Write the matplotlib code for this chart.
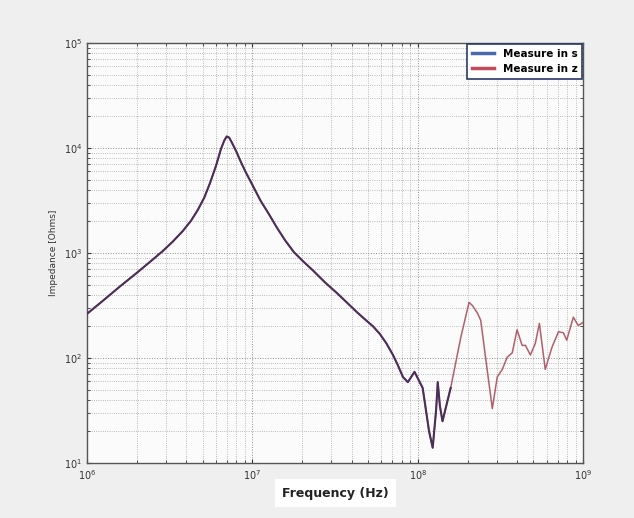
import numpy as np
import matplotlib
matplotlib.use("Agg")
import matplotlib.pyplot as plt
from matplotlib.lines import Line2D
from matplotlib.ticker import LogLocator, NullFormatter

# red trace ("Measure in z"), full sweep
freq_z = [1.00e6, 1.26e6, 1.58e6, 2.00e6, 2.51e6, 2.88e6, 3.31e6, 3.80e6,
          4.27e6, 4.68e6, 5.13e6, 5.56e6, 6.03e6, 6.46e6, 6.76e6, 7.00e6,
          7.24e6, 7.59e6, 8.04e6, 8.51e6, 9.12e6, 1.00e7, 1.12e7, 1.26e7,
          1.41e7, 1.58e7, 1.78e7, 2.00e7, 2.34e7, 2.75e7, 3.24e7, 3.72e7,
          4.27e7, 4.79e7, 5.37e7, 5.89e7, 6.46e7, 7.08e7, 7.59e7, 8.13e7,
          8.71e7, 9.55e7, 1.07e8, 1.17e8, 1.23e8, 1.29e8, 1.32e8, 1.36e8,
          1.41e8, 1.58e8, 1.82e8, 2.04e8, 2.14e8, 2.29e8, 2.40e8, 2.57e8,
          2.82e8, 3.02e8, 3.24e8, 3.47e8, 3.72e8, 3.98e8, 4.27e8, 4.47e8,
          4.79e8, 5.13e8, 5.43e8, 5.89e8, 6.46e8, 7.08e8, 7.59e8, 7.94e8,
          8.71e8, 9.33e8, 1.00e9]
imp_z = [263, 355, 479, 646, 871, 1047, 1288, 1622,
         2042, 2570, 3388, 4677, 6761, 9772, 11749, 12882,
         12589, 10965, 9120, 7413, 5888, 4467, 3162, 2344,
         1738, 1318, 1023, 851, 676, 525, 417, 339,
         275, 234, 200, 170, 138, 107, 85, 66,
         59, 74, 52, 20, 14, 32, 59, 35,
         25, 52, 158, 339, 316, 269, 229, 100,
         33, 66, 78, 102, 112, 186, 132, 132,
         107, 138, 214, 78, 126, 178, 174, 148,
         245, 204, 219]

# blue trace ("Measure in s"), stops around 160 MHz
freq_s = [f for f in freq_z if f <= 1.6e8]
imp_s = imp_z[:len(freq_s)]

fig = plt.figure(figsize=(6.34, 5.18), dpi=100, facecolor="#efefef")
ax = fig.add_axes([0.137, 0.106, 0.783, 0.811])
ax.set_facecolor("#fbfbfb")

ax.plot(freq_z, imp_z, color="#b0606c", lw=1.1, zorder=3)
ax.plot(freq_s, imp_s, color="#4a2f58", lw=1.5, zorder=4)

ax.set_xscale("log")
ax.set_yscale("log")
ax.set_xlim(1e6, 1e9)
ax.set_ylim(1e1, 1e5)

ax.xaxis.set_minor_locator(LogLocator(base=10, subs=np.arange(2, 10)))
ax.yaxis.set_minor_locator(LogLocator(base=10, subs=np.arange(2, 10)))
ax.xaxis.set_minor_formatter(NullFormatter())
ax.yaxis.set_minor_formatter(NullFormatter())
ax.grid(True, which="major", linestyle=":", color="#909090", lw=0.7)
ax.grid(True, which="minor", linestyle=":", color="#a8a8a8", lw=0.6)
ax.tick_params(which="both", direction="in", top=True, right=True,
               labelsize=7, colors="#333333")
ax.tick_params(which="major", length=3)
ax.tick_params(which="minor", length=2)
for sp in ax.spines.values():
    sp.set_color("#555555")
    sp.set_linewidth(1.0)

ax.set_ylabel("Impedance [Ohms]", fontsize=6.5, color="#333333", labelpad=4)
fig.text(0.529, 0.048, "Frequency (Hz)", ha="center", va="center",
         fontsize=9, fontweight="bold", color="#222222",
         bbox=dict(boxstyle="square,pad=0.6", fc="white", ec="none"))

handles = [Line2D([], [], color="#4a6aae", lw=2.5),
           Line2D([], [], color="#c04a5c", lw=2.5)]
leg = ax.legend(handles, ["Measure in s", "Measure in z"], loc="upper right",
                frameon=True, fancybox=False, handlelength=2.2,
                borderaxespad=0.1, labelspacing=0.5, borderpad=0.45,
                prop={"weight": "bold", "size": 7.5})
leg.get_frame().set_edgecolor("#2a3a6a")
leg.get_frame().set_linewidth(1.2)
leg.get_frame().set_facecolor("white")
leg.get_frame().set_alpha(1)

fig.savefig("out.png", dpi=100, facecolor=fig.get_facecolor())
